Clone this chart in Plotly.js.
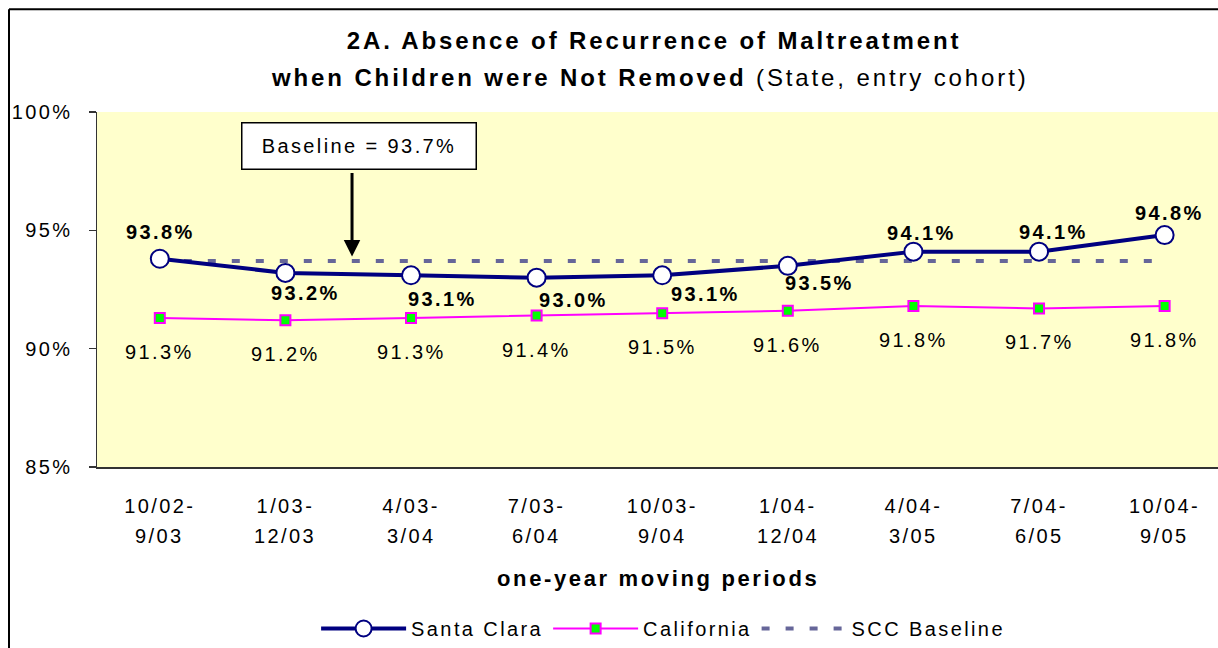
<!DOCTYPE html>
<html>
<head>
<meta charset="utf-8">
<script src="https://cdn.plot.ly/plotly-3.0.1.min.js"></script>
<style>
  html, body { margin: 0; padding: 0; background: #ffffff; overflow: hidden; }
  svg text { letter-spacing: 0.12em; }
</style>
</head>
<body>
<div id="chart" style="width:1218px;height:648px;"></div>
<script>
// ---- data ----
const tickTop    = ['10/02-', '1/03-', '4/03-', '7/03-', '10/03-', '1/04-', '4/04-', '7/04-', '10/04-'];
const tickBottom = ['9/03', '12/03', '3/04', '6/04', '9/04', '12/04', '3/05', '6/05', '9/05'];
const periods    = tickTop.map((t, i) => t + tickBottom[i]);
const santaClara = [93.8, 93.2, 93.1, 93.0, 93.1, 93.5, 94.1, 94.1, 94.8];
const california = [91.3, 91.2, 91.3, 91.4, 91.5, 91.6, 91.8, 91.7, 91.8];
const sccBaseline = [93.7, 93.7, 93.7, 93.7, 93.7, 93.7, 93.7, 93.7, 93.7];
const baselineLabel = 'Baseline = 93.7%';
const yTicks = [85, 90, 95, 100];
const yTickText = ['85%', '90%', '95%', '100%'];

// ---- styles (label offsets in pixels) ----
const scShiftX = [1, 20, 31, 37, 43, 32, 8, 14, 5];
const scShiftY = [27, -20, -24, -22, -19, -17, 19, 20, 22];
const caShiftY = -34;
const FONT = '"Liberation Sans", Arial, sans-serif';

const traces = [
  {
    x: periods, y: sccBaseline, name: 'SCC Baseline', type: 'scatter', mode: 'lines',
    line: { color: '#666699', width: 4, dash: '8px,16px' },
    legendrank: 3, hoverinfo: 'skip'
  },
  {
    x: periods, y: santaClara, name: 'Santa Clara', type: 'scatter', mode: 'lines+markers',
    line: { color: '#000080', width: 4 },
    marker: { symbol: 'circle', size: 18, color: '#ffffff', line: { color: '#000080', width: 2 } },
    legendrank: 1
  },
  {
    x: periods, y: california, name: 'California', type: 'scatter', mode: 'lines+markers',
    line: { color: '#ff00ff', width: 2 },
    marker: { symbol: 'square', size: 10, color: '#00ff00', line: { color: '#ff00ff', width: 2 } },
    legendrank: 2
  }
];

const annotations = [];
santaClara.forEach((v, i) => {
  annotations.push({
    x: periods[i], y: v, xref: 'x', yref: 'y', text: '<b>' + v.toFixed(1) + '%</b>',
    showarrow: false, xshift: scShiftX[i], yshift: scShiftY[i],
    font: { family: FONT, size: 20, color: '#000000' }
  });
});
california.forEach((v, i) => {
  annotations.push({
    x: periods[i], y: v, xref: 'x', yref: 'y', text: v.toFixed(1) + '%',
    showarrow: false, yshift: caShiftY,
    font: { family: FONT, size: 20, color: '#000000' }
  });
});
tickBottom.forEach((t, i) => {
  annotations.push({
    x: periods[i], xref: 'x', y: -0.194, yref: 'paper', yanchor: 'middle', text: t,
    showarrow: false, font: { family: FONT, size: 20, color: '#000000' }
  });
});
// second title line
annotations.push({
  x: 0.4933, xref: 'paper', y: 1.098, yref: 'paper', yanchor: 'middle', xanchor: 'center',
  text: '<b>when Children were Not Removed</b> (State, entry cohort)', showarrow: false,
  font: { family: FONT, size: 24, color: '#000000' }
});
// x axis title
annotations.push({
  x: 0.5, xref: 'paper', y: -0.315, yref: 'paper', yanchor: 'middle',
  text: '<b>one-year moving periods</b>', showarrow: false,
  font: { family: FONT, size: 22, color: '#000000' }
});
// baseline callout box
annotations.push({
  x: 0.234, xref: 'paper', y: 0.903, yref: 'paper', xanchor: 'center', yanchor: 'middle',
  text: baselineLabel, showarrow: false, bgcolor: '#ffffff', bordercolor: '#000000',
  borderwidth: 1.5, borderpad: 1, width: 231, height: 43,
  font: { family: FONT, size: 20, color: '#000000' }
});
// callout arrow
annotations.push({
  x: 0.2275, xref: 'paper', y: 0.5927, yref: 'paper', text: '', showarrow: true,
  ax: 0, ay: -85, arrowhead: 2, arrowsize: 1.1, arrowwidth: 3, arrowcolor: '#000000', standoff: 0
});

const layout = {
  width: 1218, height: 648,
  margin: { l: 97, r: 0, t: 112, b: 180 },
  paper_bgcolor: '#ffffff', plot_bgcolor: '#ffffcc',
  font: { family: FONT, size: 20, color: '#000000' },
  title: {
    text: '<b>2A. Absence of Recurrence of Maltreatment</b>',
    x: 0.537, xanchor: 'center', xref: 'container',
    y: 0.938, yanchor: 'middle', yref: 'container',
    font: { family: FONT, size: 24, color: '#000000' }
  },
  xaxis: {
    type: 'category', range: [-0.5, 8.425],
    tickvals: periods, ticktext: tickTop,
    showgrid: false, zeroline: false, showline: true, linecolor: '#333333', linewidth: 1.5,
    ticks: '', ticklabelstandoff: 20,
    tickfont: { family: FONT, size: 20, color: '#000000' }
  },
  yaxis: {
    range: [85, 100], tickvals: yTicks, ticktext: yTickText,
    showgrid: false, zeroline: false, showline: true, linecolor: '#333333', linewidth: 1.5,
    ticks: 'outside', ticklen: 7, tickcolor: '#333333', tickwidth: 1.5,
    ticklabelstandoff: 12,
    tickfont: { family: FONT, size: 20, color: '#000000' }
  },
  showlegend: true,
  legend: {
    orientation: 'h', x: 0.505, xanchor: 'center', y: -0.455, yanchor: 'middle',
    font: { family: FONT, size: 20, color: '#000000' }, itemwidth: 85,
    bgcolor: 'rgba(0,0,0,0)'
  },
  annotations: annotations,
  shapes: [
    {
      type: 'line', xref: 'paper', yref: 'paper',
      x0: -0.0785, x1: -0.0785, y0: -0.6, y1: 1.2893,
      line: { color: '#000000', width: 2 }, layer: 'below'
    },
    {
      type: 'line', xref: 'paper', yref: 'paper',
      x0: -0.0785, x1: 1.05, y0: 1.2893, y1: 1.2893,
      line: { color: '#000000', width: 2 }, layer: 'below'
    }
  ]
};

Plotly.newPlot('chart', traces, layout, { displayModeBar: false, staticPlot: true });
</script>
</body>
</html>
